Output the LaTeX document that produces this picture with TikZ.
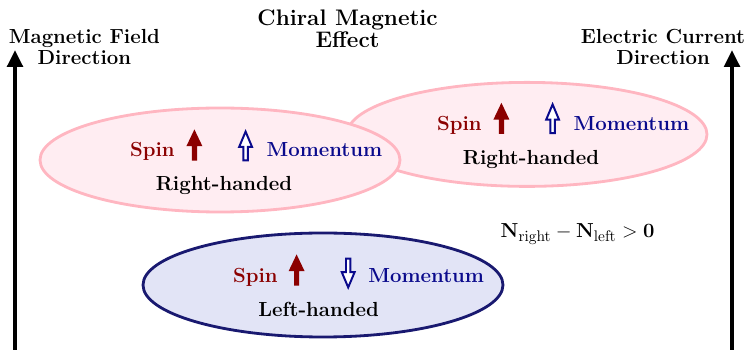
\documentclass[tikz,border=0pt]{standalone}
\usetikzlibrary{shapes.geometric, arrows.meta, positioning}

% Colours of the picture
\definecolor{rhfill}{RGB}{255,237,242}
\definecolor{rhline}{RGB}{255,182,193}
\definecolor{lhfill}{RGB}{226,228,246}
\definecolor{lhline}{RGB}{25,25,112}
\definecolor{spincol}{RGB}{139,0,0}
\definecolor{momcol}{RGB}{10,10,140}

\tikzset{
	blob/.style={ellipse, minimum width=9cm, minimum height=2.6cm, line width=2pt},
	rhblob/.style={blob, draw=rhline, fill=rhfill},
	lhblob/.style={blob, draw=lhline, fill=lhfill},
	lbl/.style={align=center, inner sep=0pt},
	spintxt/.style={lbl, text=spincol},
	momtxt/.style={lbl, text=momcol},
	axis/.style={line width=3pt, -{Triangle[length=0.42cm, width=0.38cm]}},
	pics/spinup/.style={code={
			\fill[spincol] (-0.065,-0.39) -- (-0.065,-0.03) -- (-0.2,-0.03) -- (0,0.39)
			-- (0.2,-0.03) -- (0.065,-0.03) -- (0.065,-0.39) -- cycle;}},
	pics/momarrow/.style={code={
			\draw[momcol, fill=white, line width=1.4pt, line join=miter] (-0.055,-0.36) -- (-0.055,-0.02)
			-- (-0.16,-0.02) -- (0,0.36) -- (0.16,-0.02) -- (0.055,-0.02) -- (0.055,-0.36) -- cycle;}},
}

\begin{document}
\begin{tikzpicture}[line cap=butt, font=\fontsize{14.5}{15}\selectfont\bfseries]
	% Window of the picture
	\useasboundingbox (0,0) rectangle (18.65,8.75);
	
	% Direction arrows at both sides
	\coordinate (magfoot) at (0.375,0);
	\coordinate (magtip) at (0.375,7.5);
	\coordinate (curfoot) at (18.3,0);
	\coordinate (curtip) at (18.3,7.5);
	\draw[axis] (magfoot) -- (magtip);
	\draw[axis] (curfoot) -- (curtip);
	
	% Titles
	\node[lbl] (magfield) at (2.11,7.58) {Magnetic Field\\Direction};
	\node[lbl] (current) at (16.575,7.58) {Electric Current\\Direction};
	\node[lbl, font=\fontsize{16}{16}\selectfont\bfseries] (cme) at (8.69,8.035) {Chiral Magnetic\\Effect};
	
	% Right-handed (upper right), drawn first so the other one lies on top
	\node[rhblob] (ellB) at (13.175,5.39) {};
	\node[spintxt, anchor=base] (spinB) at ([shift={(-1.69,0.1)}]ellB.center) {Spin};
	\node[momtxt, anchor=base] (momB) at ([shift={(2.61,0.1)}]ellB.center) {Momentum};
	\node[lbl, anchor=base] (handB) at ([shift={(0.1,-0.76)}]ellB.center) {Right-handed};
	\pic at ([shift={(-0.64,0.4)}]ellB.center) {spinup};
	\pic at ([shift={(0.64,0.39)}]ellB.center) {momarrow};
	
	% Right-handed (upper left)
	\node[rhblob] (ellA) at (5.5,4.75) {};
	\node[spintxt, anchor=base] (spinA) at ([shift={(-1.69,0.08)}]ellA.center) {Spin};
	\node[momtxt, anchor=base] (momA) at ([shift={(2.61,0.08)}]ellA.center) {Momentum};
	\node[lbl, anchor=base] (handA) at ([shift={(0.1,-0.77)}]ellA.center) {Right-handed};
	\pic at ([shift={(-0.64,0.375)}]ellA.center) {spinup};
	\pic at ([shift={(0.64,0.35)}]ellA.center) {momarrow};
	
	% Left-handed (bottom)
	\node[lhblob] (ellC) at (8.075,1.625) {};
	\node[spintxt, anchor=base] (spinC) at ([shift={(-1.69,0.07)}]ellC.center) {Spin};
	\node[momtxt, anchor=base] (momC) at ([shift={(2.58,0.07)}]ellC.center) {Momentum};
	\node[lbl, anchor=base] (handC) at ([shift={(-0.11,-0.78)}]ellC.center) {Left-handed};
	\pic at ([shift={(-0.66,0.375)}]ellC.center) {spinup};
	\pic[rotate=180] at ([shift={(0.63,0.3)}]ellC.center) {momarrow};
	
	% Net chirality
	\node[lbl, anchor=base, font=\fontsize{15}{16}\selectfont\bfseries] (netcount) at (14.44,2.81)
	{$\mathbf{N}_{\mathrm{right}} - \mathbf{N}_{\mathrm{left}} > \mathbf{0}$};
\end{tikzpicture}
\end{document}
